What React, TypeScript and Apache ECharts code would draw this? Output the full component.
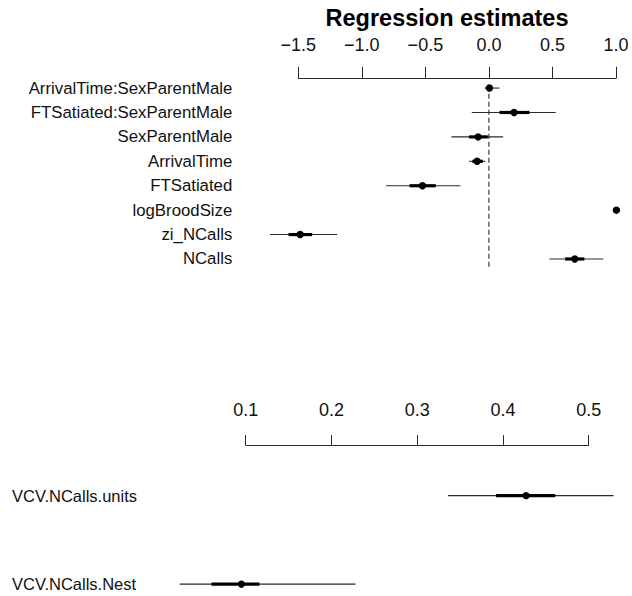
import React, { useEffect, useRef } from "react";
import * as echarts from "echarts";

const regLabels = [
  "ArrivalTime:SexParentMale",
  "FTSatiated:SexParentMale",
  "SexParentMale",
  "ArrivalTime",
  "FTSatiated",
  "logBroodSize",
  "zi_NCalls",
  "NCalls",
];
const regEst = [0.004, 0.198, -0.085, -0.093, -0.523, 1.003, -1.485, 0.676];
const regLo95 = [-0.035, -0.135, -0.295, -0.156, -0.809, 1.003, -1.722, 0.476];
const regHi95 = [0.083, 0.526, 0.112, -0.028, -0.224, 1.003, -1.194, 0.899];
const regLo50 = [-0.018, 0.083, -0.156, -0.13, -0.625, 1.003, -1.577, 0.6];
const regHi50 = [0.022, 0.319, -0.009, -0.048, -0.418, 1.003, -1.391, 0.751];

const vcvLabels = ["VCV.NCalls.units", "VCV.NCalls.Nest"];
const vcvEst = [0.427, 0.095];
const vcvLo95 = [0.336, 0.023];
const vcvHi95 = [0.529, 0.228];
const vcvLo50 = [0.392, 0.06];
const vcvHi50 = [0.461, 0.116];

const regTicks = [-1.5, -1.0, -0.5, 0.0, 0.5, 1.0];
const vcvTicks = [0.1, 0.2, 0.3, 0.4, 0.5];
const refLine = 0;

const FONT = "'Liberation Sans', Arial, Helvetica, sans-serif";

function fmt(v: number) {
  const s = Math.abs(v).toFixed(1);
  return v < -1e-9 ? "\u2212" + s : s;
}

const renderItem = (params: any, api: any) => {
  const y = api.value(0);
  const a = api.coord([api.value(1), y]);
  const b = api.coord([api.value(2), y]);
  const c = api.coord([api.value(3), y]);
  const d = api.coord([api.value(4), y]);
  const e = api.coord([api.value(5), y]);
  return {
    type: "group",
    children: [
      {
        type: "line",
        shape: { x1: a[0], y1: a[1], x2: b[0], y2: b[1] },
        style: { stroke: "#2a2a2a", lineWidth: 1.1 },
      },
      {
        type: "line",
        shape: { x1: c[0], y1: c[1], x2: d[0], y2: d[1] },
        style: { stroke: "#000", lineWidth: 3.2 },
      },
      {
        type: "circle",
        shape: { cx: e[0], cy: e[1], r: 3.7 },
        style: { fill: "#000" },
      },
    ],
  };
};

export default function App() {
  const ref = useRef<HTMLDivElement>(null);
  useEffect(() => {
    if (!ref.current) return;
    const chart = echarts.init(ref.current, undefined, { renderer: "svg" });
    const regData = regLabels.map((_, i) => [i, regLo95[i], regHi95[i], regLo50[i], regHi50[i], regEst[i]]);
    const vcvData = vcvLabels.map((_, i) => [i, vcvLo95[i], vcvHi95[i], vcvLo50[i], vcvHi50[i], vcvEst[i]]);
    const xAxisCommon = (min: number, max: number, interval: number, margin: number, len: number) => ({
      type: "value",
      position: "top",
      min,
      max,
      interval,
      axisLine: { show: true, onZero: false, lineStyle: { color: "#2a2a2a", width: 1 } },
      axisTick: { show: true, inside: false, length: len, lineStyle: { color: "#2a2a2a", width: 1 } },
      axisLabel: { show: true, fontSize: 18, color: "#111", margin, fontFamily: FONT, formatter: (v: number) => fmt(v) },
      splitLine: { show: false },
    });
    chart.setOption({
      animation: false,
      textStyle: { fontFamily: FONT },
      title: {
        text: "Regression estimates",
        left: 442,
        top: 1,
        textAlign: "center",
        textStyle: { fontSize: 23.5, fontWeight: "bold", color: "#000", fontFamily: FONT },
      },
      grid: [
        { left: 298.3, right: 16, top: 78.3, height: 190.7 },
        { left: 245.7, right: 43.3, top: 445, height: 148 },
      ],
      xAxis: [
        { ...xAxisCommon(regTicks[0], regTicks[regTicks.length - 1], 0.5, 24, 11.6), gridIndex: 0 },
        { ...xAxisCommon(vcvTicks[0], vcvTicks[vcvTicks.length - 1], 0.1, 26, 10), gridIndex: 1 },
      ],
      yAxis: [
        {
          type: "value",
          gridIndex: 0,
          inverse: true,
          min: -0.4,
          max: 7.41,
          axisLine: { show: false },
          axisTick: { show: false },
          splitLine: { show: false },
          axisLabel: {
            show: true,
            customValues: regLabels.map((_, i) => i),
            formatter: (v: number) => regLabels[Math.round(v)] ?? "",
            fontSize: 16.8,
            color: "#111",
            margin: 66,
            fontFamily: FONT,
          },
        },
        {
          type: "value",
          gridIndex: 1,
          inverse: true,
          min: -0.572,
          max: 1.1,
          axisLine: { show: false },
          axisTick: { show: false },
          splitLine: { show: false },
          axisLabel: {
            show: true,
            customValues: vcvLabels.map((_, i) => i),
            formatter: (v: number) => vcvLabels[Math.round(v)] ?? "",
            fontSize: 16.5,
            color: "#111",
            align: "left",
            margin: 233.7,
            fontFamily: FONT,
          },
        },
      ],
      series: [
        {
          type: "line",
          xAxisIndex: 0,
          yAxisIndex: 0,
          data: [
            [refLine, -0.1],
            [refLine, 7.41],
          ],
          symbol: "none",
          silent: true,
          z: 1,
          lineStyle: { color: "#222", width: 1.1, type: [5, 3] },
        },
        {
          type: "custom",
          xAxisIndex: 0,
          yAxisIndex: 0,
          renderItem,
          clip: false,
          z: 3,
          encode: { x: [1, 2, 3, 4, 5], y: 0 },
          data: regData,
        },
        {
          type: "custom",
          xAxisIndex: 1,
          yAxisIndex: 1,
          renderItem,
          clip: false,
          z: 3,
          encode: { x: [1, 2, 3, 4, 5], y: 0 },
          data: vcvData,
        },
      ],
    });
    return () => chart.dispose();
  }, []);
  return (
    <div
      ref={ref}
      style={{ position: "fixed", left: 0, top: 0, width: 632, height: 596, background: "#fff" }}
    />
  );
}
